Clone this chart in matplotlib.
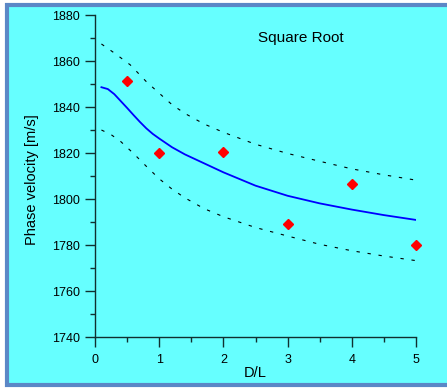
import matplotlib
matplotlib.use("Agg")
import matplotlib.pyplot as plt
from matplotlib.patches import Rectangle
from matplotlib.ticker import MultipleLocator

plt.rcParams['font.family'] = ['Liberation Sans', 'DejaVu Sans']

# Measured points (red diamonds)
dl_points = [0.5, 1, 2, 3, 4, 5]
vel_points = [1851.3, 1820.1, 1820.3, 1789.1, 1806.4, 1780.1]

# Fitted curve (square root model)
fit_x = [0.1, 0.2, 0.3, 0.4, 0.5, 0.6, 0.7, 0.8, 0.9, 1.0, 1.2, 1.4, 1.6, 1.8, 2.0,
         2.5, 3.0, 3.5, 4.0, 4.5, 5.0]
fit_y = [1848.6, 1847.8, 1845.6, 1842.6, 1839.6, 1836.5, 1833.5, 1830.7, 1828.3, 1826.3,
         1822.5, 1819.4, 1816.8, 1814.2, 1811.6, 1805.8, 1801.4, 1798.1, 1795.4, 1793.0,
         1790.9]

# Confidence bounds
upper_x = [0.1, 0.3, 0.55, 0.8, 1.0, 1.2, 1.4, 1.7, 2.0, 2.5, 3.0, 3.5, 4.0, 4.5, 5.0]
upper_y = [1867.4, 1863.5, 1858.3, 1851.0, 1846.0, 1841.0, 1837.2, 1832.6, 1829.0, 1823.8,
           1819.8, 1816.4, 1813.1, 1810.5, 1808.2]
lower_x = [0.1, 0.25, 0.4, 0.6, 0.8, 1.0, 1.2, 1.4, 1.7, 2.0, 2.5, 3.0, 3.5, 4.0, 4.5, 5.0]
lower_y = [1830.0, 1828.0, 1825.0, 1819.8, 1814.2, 1808.8, 1804.3, 1800.5, 1795.8, 1792.3,
           1787.6, 1783.9, 1780.3, 1777.5, 1775.2, 1773.2]

fig = plt.figure(figsize=(4.47, 3.9), dpi=100)
fig.patch.set_facecolor('white')

# cyan panel with blue frame, kept behind the axes
frame = Rectangle((7 / 447, 1 - 384.5 / 390), 1.0, (384.5 - 5) / 390,
                  transform=fig.transFigure, facecolor='#66FFFF',
                  edgecolor='#5B87C6', linewidth=3, zorder=-10)
fig.patches.append(frame)

ax = fig.add_axes([95 / 447, 1 - 337 / 390, 321 / 447, 322 / 390])
ax.set_zorder(5)
ax.set_facecolor('none')

ax.plot(upper_x, upper_y, color='black', lw=0.8, linestyle=(0, (3, 7)))
ax.plot(lower_x, lower_y, color='black', lw=0.8, linestyle=(0, (3, 7)))
ax.plot(fit_x, fit_y, color='#0000FF', lw=1.3)
ax.plot(dl_points, vel_points, linestyle='none', marker='D', markersize=5.5,
        color='#FF0000', markeredgecolor='#FF0000', zorder=3, clip_on=False)

ax.set_xlim(0, 5)
ax.set_ylim(1740, 1880)
ax.xaxis.set_major_locator(MultipleLocator(1))
ax.xaxis.set_minor_locator(MultipleLocator(0.5))
ax.yaxis.set_major_locator(MultipleLocator(20))
ax.yaxis.set_minor_locator(MultipleLocator(10))

for s in ['top', 'right']:
    ax.spines[s].set_visible(False)
for s in ['left', 'bottom']:
    ax.spines[s].set_color('#103030')
    ax.spines[s].set_linewidth(1.0)

ax.tick_params(which='major', direction='out', length=7, width=1.0,
               color='#103030', labelsize=9)
ax.tick_params(which='minor', direction='out', length=3.5, width=1.0, color='#103030')
ax.tick_params(axis='y', which='major', pad=4)
ax.tick_params(axis='x', which='major', pad=5)

ax.set_xlabel('D/L', fontsize=10.5)
ax.set_ylabel('Phase velocity [m/s]', fontsize=10.5)
ax.xaxis.set_label_coords(0.5, -0.09)
ax.yaxis.set_label_coords(-0.175, 0.49)

ax.text(0.642, 0.929, 'Square Root', transform=ax.transAxes, fontsize=11,
        ha='center', va='center')

fig.savefig('out.png', dpi=100)
